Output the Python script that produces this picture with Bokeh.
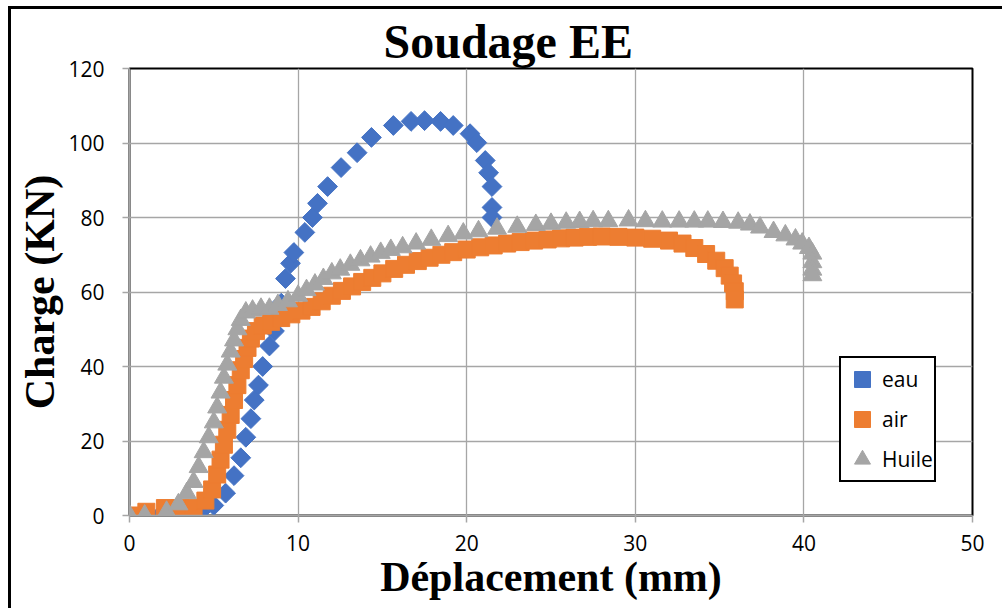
import math
from bokeh.plotting import figure
from bokeh.models import Range1d, FixedTicker, Legend, LegendItem
from bokeh.embed import file_html
from bokeh.resources import INLINE

# ---- data ----
eau_x = [0, 1.8, 2.6, 3.4, 4.2, 5.0, 5.7, 6.2, 6.6, 6.9, 7.2, 7.4, 7.65, 7.9, 8.3, 8.6, 8.8,
         9.0, 9.25, 9.55, 9.75, 10.4, 10.85, 11.15, 11.75, 12.55, 13.5, 14.35, 15.65, 16.7,
         17.5, 18.45, 19.2, 20.2, 20.6, 21.1, 21.3, 21.5, 21.5, 21.5]
eau_y = [0, 0, 0, 0.5, 1, 2.7, 6, 10.7, 15.5, 21, 26, 31, 35, 40, 45.5, 49.5, 53,
         57, 63.6, 67.7, 70.6, 76, 80, 83.8, 88.3, 93.4, 97.4, 101.5, 104.7, 105.8,
         106, 105.8, 104.7, 102.5, 100.1, 95.3, 92, 88.3, 82.7, 80]

air_x = [0, 1.0, 2.1, 3.0, 3.8, 4.5, 4.9, 5.2, 5.4, 5.6, 5.8, 6.0, 6.2, 6.4, 6.6, 6.8, 7.0,
         7.2, 7.5, 7.9, 8.4, 9.0, 9.6, 10.2, 10.8, 11.4, 12.0, 12.6, 13.2, 13.8, 14.4, 15.0,
         15.7, 16.4, 17.1, 17.8, 18.5, 19.2, 20.0, 20.8, 21.6, 22.4, 23.2, 24.0, 24.8, 25.6,
         26.4, 27.2, 28.0, 29.0, 30.0, 31.0, 32.0, 32.8, 33.5, 34.2, 34.8, 35.3, 35.6, 35.8,
         35.9, 35.9]
air_y = [0, 1, 2, 2, 2, 4, 7, 11, 15, 19, 23, 27, 31, 35, 39, 42, 45,
         47.5, 49.5, 51, 52, 53, 54, 55, 56, 57.5, 59, 60.3, 61.5, 62.7, 63.8, 65,
         66.2, 67.3, 68.3, 69.2, 70, 70.7, 71.4, 72, 72.5, 73, 73.4, 73.8, 74.1, 74.4,
         74.6, 74.8, 74.9, 74.8, 74.6, 74.3, 73.8, 73, 71.8, 70.2, 68.4, 66.4, 64.4, 62.3,
         60.2, 58]

huile_x = [0, 0.9, 2.2, 2.9, 3.4, 3.8, 4.1, 4.4, 4.7, 5.0, 5.2, 5.4, 5.6, 5.8, 6.0, 6.2,
           6.4, 6.6, 6.9, 7.3, 7.8, 8.3, 8.8, 9.4, 10.0, 10.5, 11.0, 11.5, 12.0, 12.5, 13.1,
           13.7, 14.3, 14.9, 15.5, 16.2, 17.0, 17.9, 18.9, 19.8, 20.7, 21.8, 23.0, 24.1,
           25.0, 25.9, 26.7, 27.5, 28.4, 29.6, 30.6, 31.6, 32.6, 33.5, 34.3, 35.2, 36.1,
           36.8, 37.4, 38.2, 38.9, 39.5, 39.9, 40.3, 40.5, 40.5, 40.5, 40.5]
huile_y = [0, 0, 1, 3, 6, 9, 13, 17, 21, 25, 29, 33, 37, 40.5, 44, 47,
           50, 52.5, 54.5, 55, 55.5, 55.5, 56.5, 57.5, 59, 60.5, 62, 63.5, 65, 66, 67.3,
           68.5, 69.5, 70.5, 71.3, 72, 73, 74, 75, 75.7, 76.3, 77, 77.5, 78,
           78.3, 78.6, 78.8, 79, 79, 79.2, 79, 78.9, 78.9, 78.9, 78.9, 78.8, 78.6,
           78.1, 77.3, 76.1, 75.2, 74.1, 73, 71.8, 70.3, 68, 66, 64.5]

x_ticks = [0, 10, 20, 30, 40, 50]
y_ticks = [0, 20, 40, 60, 80, 100, 120]
labels = ["eau", "air", "Huile"]
title_text = "Soudage EE"
x_title = "Déplacement (mm)"
y_title = "Charge (KN)"

BLUE, ORANGE, GRAY = "#4472C4", "#ED7D31", "#A5A5A5"
GRID = "#A6A6A6"

p = figure(width=994, height=602, output_backend="svg", toolbar_location=None,
           x_range=Range1d(0, 50), y_range=Range1d(0, 120),
           min_border_left=118, min_border_right=33, min_border_top=59, min_border_bottom=96,
           title=title_text)
p.styles = {"border-left": "3px solid black", "border-top": "3px solid black",
            "margin-left": "8px", "margin-top": "6px"}

p.title.text_font = "Liberation Serif"
p.title.text_font_style = "bold"
p.title.text_font_size = "48px"
p.title.align = "left"
p.title.offset = 254
p.title.standoff = 2
p.title.text_color = "black"

p.outline_line_color = "black"
p.outline_line_width = 2
p.background_fill_color = "white"
p.border_fill_color = "white"

p.xaxis.ticker = FixedTicker(ticks=x_ticks)
p.yaxis.ticker = FixedTicker(ticks=y_ticks)
for ax in (p.xaxis[0], p.yaxis[0]):
    ax.axis_line_color = GRID
    ax.axis_line_width = 1.5
    ax.major_tick_line_color = GRID
    ax.major_tick_line_width = 1.5
    ax.major_tick_out = 7
    ax.major_tick_in = 0
    ax.minor_tick_line_color = None
    ax.major_label_text_font = "Open Sans"
    ax.major_label_text_font_size = "21px"
    ax.major_label_text_color = "black"
    ax.axis_label_text_font = "Liberation Serif"
    ax.axis_label_text_font_style = "bold"
    ax.axis_label_text_font_size = "42px"
    ax.axis_label_text_color = "black"
p.xaxis.axis_label = x_title
p.yaxis.axis_label = y_title
p.xaxis.major_label_standoff = 12
p.xaxis.axis_label_standoff = 0
p.yaxis.major_label_standoff = 18
p.yaxis.axis_label_standoff = 2

p.xgrid.ticker = FixedTicker(ticks=x_ticks)
p.ygrid.ticker = FixedTicker(ticks=y_ticks)
for g in (p.xgrid[0], p.ygrid[0]):
    g.grid_line_color = GRID
    g.grid_line_width = 1.3

r_eau = p.scatter(eau_x, eau_y, marker="square", size=14, angle=math.pi / 4,
                  fill_color=BLUE, line_color=BLUE)
r_air = p.scatter(air_x, air_y, marker="square", size=17,
                  fill_color=ORANGE, line_color=ORANGE)
r_huile = p.scatter(huile_x, huile_y, marker="triangle", size=19,
                    fill_color=GRAY, line_color=GRAY)

legend = Legend(items=[LegendItem(label=labels[0], renderers=[r_eau]),
                       LegendItem(label=labels[1], renderers=[r_air]),
                       LegendItem(label=labels[2], renderers=[r_huile])],
                location=(710, 33))
legend.border_line_color = "black"
legend.border_line_alpha = 1
legend.border_line_width = 2
legend.background_fill_alpha = 1
legend.padding = 1
legend.spacing = 0
legend.label_height = 40
legend.glyph_height = 40
legend.glyph_width = 40
legend.label_standoff = 0
legend.margin = 0
legend.label_text_font = "Open Sans"
legend.label_text_font_size = "21px"
legend.label_text_color = "black"
p.add_layout(legend, "center")

open("out.html", "w").write(file_html(p, INLINE))
